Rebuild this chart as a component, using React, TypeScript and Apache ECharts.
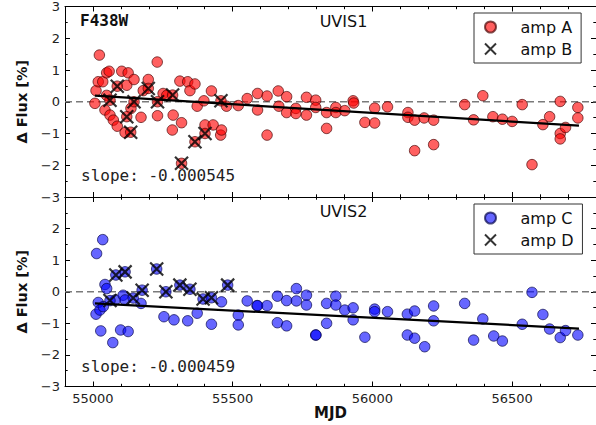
import React, { useEffect, useRef } from "react";
import * as echarts from "echarts";

// ---- axis ranges / ticks ----
const X_MIN = 54900;
const X_MAX = 56800;
const X_MINOR_STEP = 100;
const xTickLabels = [55000, 55500, 56000, 56500];
const Y_MIN = -3;
const Y_MAX = 3;

// ---- top panel (F438W, UVIS1) ----
const ampA: [number, number][] = [
  [55007, -0.05], [55011, 0.35], [55019, 0.63], [55023, 1.47], [55035, 0.63], [55043, -0.26],
  [55049, 0.91], [55049, 0.2], [55058, 0.96], [55061, -0.42], [55073, -0.58], [55087, -0.77],
  [55103, 0.96], [55115, -0.97], [55121, 0.52], [55126, 0.91], [55136, -0.21], [55147, 0.7],
  [55172, -0.49], [55180, 0.35], [55198, 0.7], [55230, 1.25], [55231, -0.44], [55251, 0.26],
  [55264, 0.2], [55284, -0.89], [55287, -0.42], [55311, 0.65], [55317, -0.66], [55339, 0.63],
  [55347, 0.35], [55365, 0.56], [55373, -0.14], [55397, 0.03], [55401, -0.73], [55424, 0.34],
  [55430, -0.73], [55457, -1.05], [55460, -0.89], [55478, -0.14], [55520, -0.12], [55552, 0.1],
  [55589, 0.26], [55589, -0.26], [55623, 0.18], [55623, -1.05], [55663, 0.34], [55665, -0.14],
  [55693, 0.16], [55693, -0.34], [55726, -0.21], [55726, -0.37], [55764, 0.14], [55764, -0.42],
  [55797, 0.05], [55797, -0.18], [55836, -0.34], [55836, -0.84], [55869, -0.18], [55869, -0.34],
  [55901, -0.28], [55931, 0.03], [55933, -0.04], [55973, -0.65], [56008, -0.2], [56008, -0.67],
  [56054, -0.16], [56127, -0.34], [56127, -0.49], [56151, -0.58], [56151, -1.54], [56185, -0.51],
  [56219, -0.58], [56219, -1.35], [56330, -0.09], [56362, -0.57], [56395, 0.19], [56431, -0.47],
  [56465, -0.55], [56500, -0.62], [56536, -0.09], [56571, -1.98], [56610, -0.72], [56634, -0.47],
  [56672, 0.01], [56672, -1.0], [56672, -1.17], [56691, -0.81], [56735, -0.18], [56735, -0.51],
];
const ampB: [number, number][] = [
  [55061, 0.05], [55087, 0.49], [55121, -0.47], [55135, -0.96], [55147, 0.0], [55198, 0.42],
  [55231, 0.0], [55285, 0.21], [55317, -1.94], [55365, -1.26], [55401, -1.0], [55458, 0.03],
];
const topFitStart: [number, number] = [55007, 0.19];
const topFitEndX = 56739;
const topSlope = -0.000545;

// ---- bottom panel (UVIS2) ----
const ampC: [number, number][] = [
  [55011, -0.71], [55013, 1.21], [55019, -0.34], [55025, -0.58], [55028, -1.24], [55035, 1.65],
  [55037, -0.47], [55043, 0.23], [55049, 0.1], [55071, -1.61], [55080, -0.26], [55099, -1.21],
  [55108, -0.11], [55115, -0.26], [55126, -1.26], [55172, -0.37], [55254, -0.79], [55290, -0.89],
  [55339, -0.92], [55373, -0.68], [55424, -1.03], [55460, -0.32], [55520, -0.74], [55520, -1.05],
  [55552, -0.29], [55587, -0.44], [55589, -0.44], [55623, -0.44], [55660, -0.14], [55660, -0.98],
  [55693, -0.28], [55693, -1.08], [55728, 0.1], [55728, -0.29], [55764, -0.11], [55764, -0.42],
  [55797, -1.37], [55798, -1.37], [55836, -0.37], [55836, -1.0], [55869, -0.14], [55869, -0.42],
  [55901, -0.58], [55931, -0.51], [55931, -0.89], [55973, -1.44], [56008, -0.55], [56008, -0.63],
  [56054, -0.63], [56125, -0.71], [56125, -1.37], [56151, -0.61], [56151, -1.47], [56187, -1.74],
  [56219, -0.45], [56219, -0.92], [56330, -0.37], [56362, -1.53], [56395, -0.86], [56434, -1.4],
  [56465, -1.56], [56536, -1.03], [56571, -0.02], [56610, -0.72], [56634, -1.18], [56672, -1.45],
  [56691, -1.23], [56735, -1.37],
];
const ampD: [number, number][] = [
  [55061, -0.28], [55082, 0.53], [55115, 0.63], [55144, -0.2], [55176, 0.05], [55228, 0.72],
  [55261, 0.0], [55311, 0.21], [55347, 0.08], [55394, -0.23], [55424, -0.19], [55482, 0.21],
];
const bottomFitStart: [number, number] = [55007, -0.37];
const bottomFitEndX = 56739;
const bottomSlope = -0.000459;

const filterName = "F438W";
const panelNames = ["UVIS1", "UVIS2"];
const yTitle = "\u0394 Flux [%]";
const xTitle = "MJD";

const CROSS = "path://M0,0L10,10M10,0L0,10";
const SANS = "DejaVu Sans";
const MONO = "DejaVu Sans Mono";

const fitLine = (start: [number, number], endX: number, slope: number): [number, number][] => [
  start,
  [endX, start[1] + slope * (endX - start[0])],
];

const minus = (v: number) => String(v).replace("-", "\u2212");

// minor-tick axis (every 100), optionally carrying the labels
function xMinorAxis(gridIndex: number, position: "bottom" | "top", labels: boolean) {
  return {
    type: "value",
    gridIndex,
    position,
    min: X_MIN,
    max: X_MAX,
    interval: X_MINOR_STEP,
    splitLine: { show: false },
    axisLine: { onZero: false, lineStyle: { color: "#000", width: 1 } },
    axisTick: { inside: true, length: 2.7, lineStyle: { color: "#000" } },
    axisLabel: {
      show: labels,
      margin: 5,
      color: "#222",
      fontFamily: SANS,
      fontSize: 13,
      customValues: xTickLabels,
      formatter: (v: number) => String(v),
    },
    name: labels ? xTitle : "",
    nameLocation: "middle",
    nameGap: 19,
    nameTextStyle: { fontFamily: SANS, fontSize: 15, fontWeight: "bold", color: "#111", verticalAlign: "top" },
  };
}

// major-tick axis (labelled values), ticks only
function xMajorAxis(gridIndex: number, position: "bottom" | "top") {
  return {
    type: "value",
    gridIndex,
    position,
    min: X_MIN,
    max: X_MAX,
    splitLine: { show: false },
    axisLine: { show: false, onZero: false },
    axisTick: { inside: true, length: 5, customValues: xTickLabels, lineStyle: { color: "#000" } },
    axisLabel: { show: false },
  };
}

function yAxisCfg(gridIndex: number, position: "left" | "right", labels: boolean, hideTop: boolean) {
  return {
    type: "value",
    gridIndex,
    position,
    min: Y_MIN,
    max: Y_MAX,
    interval: 1,
    splitLine: { show: false },
    axisLine: { onZero: false, lineStyle: { color: "#000", width: 1 } },
    axisTick: { inside: true, length: 5, lineStyle: { color: "#000" } },
    minorTick: { show: true, splitNumber: 2, length: 2.7, lineStyle: { color: "#000" } },
    axisLabel: {
      show: labels,
      margin: 5,
      color: "#222",
      fontFamily: SANS,
      fontSize: 13,
      formatter: (v: number) => (hideTop && v === Y_MAX ? "" : minus(v)),
    },
    name: labels ? yTitle : "",
    nameLocation: "middle",
    nameRotate: 90,
    nameGap: 29,
    nameTextStyle: { fontFamily: SANS, fontSize: 14.5, fontWeight: "bold", color: "#111" },
  };
}

function legendCfg(names: [string, string], top: number) {
  return {
    data: [
      { name: names[0], icon: "circle" },
      { name: names[1], icon: CROSS },
    ],
    orient: "vertical",
    left: 474,
    top,
    itemWidth: 28,
    itemHeight: 11,
    itemGap: 6,
    padding: [6, 9, 6, 10],
    borderColor: "#333",
    borderWidth: 1,
    borderRadius: 0,
    selectedMode: false,
    textStyle: { fontFamily: SANS, fontSize: 16, lineHeight: 16, color: "#111", padding: [0, 0, 0, 11] },
  };
}

function panelSeries(
  idx: number,
  circName: string,
  crossName: string,
  circles: [number, number][],
  crosses: [number, number][],
  fill: string,
  edge: string,
  fit: [number, number][]
) {
  const xi = idx * 4;
  const yi = idx * 2;
  const circleStyle = { color: fill, borderColor: edge, borderWidth: 1 };
  return [
    {
      type: "line",
      xAxisIndex: xi,
      yAxisIndex: yi,
      data: [[X_MIN, 0], [X_MAX, 0]],
      symbol: "none",
      silent: true,
      z: 1,
      lineStyle: { color: "#7a7a7a", width: 1.5, type: [7, 4] },
    },
    {
      name: circName,
      type: "scatter",
      xAxisIndex: xi,
      yAxisIndex: yi,
      data: circles,
      symbol: "circle",
      symbolSize: 10.5,
      z: 2,
      itemStyle: circleStyle,
    },
    {
      // the crossed points are drawn as filled circles too
      type: "scatter",
      xAxisIndex: xi,
      yAxisIndex: yi,
      data: crosses,
      symbol: "circle",
      symbolSize: 10.5,
      z: 2,
      itemStyle: circleStyle,
    },
    {
      type: "line",
      xAxisIndex: xi,
      yAxisIndex: yi,
      data: fit,
      symbol: "none",
      silent: true,
      z: 3,
      lineStyle: { color: "#000", width: 2.2 },
    },
    {
      name: crossName,
      type: "scatter",
      xAxisIndex: xi,
      yAxisIndex: yi,
      data: crosses,
      symbol: CROSS,
      symbolSize: 13,
      z: 4,
      itemStyle: { color: "rgba(0,0,0,0)", borderColor: "#000", borderWidth: 2.2 },
    },
  ];
}

export default function App() {
  const ref = useRef<HTMLDivElement>(null);

  useEffect(() => {
    if (!ref.current) return;
    const chart = echarts.init(ref.current, null, { renderer: "svg" });
    const option = {
      animation: false,
      backgroundColor: "#fff",
      grid: [
        { left: 65, top: 6.5, width: 531.5, height: 190.5 },
        { left: 65, top: 197, width: 531.5, height: 189.5 },
      ],
      xAxis: [
        xMinorAxis(0, "bottom", false),
        xMinorAxis(0, "top", false),
        xMajorAxis(0, "bottom"),
        xMajorAxis(0, "top"),
        xMinorAxis(1, "bottom", true),
        xMinorAxis(1, "top", false),
        xMajorAxis(1, "bottom"),
        xMajorAxis(1, "top"),
      ],
      yAxis: [
        yAxisCfg(0, "left", true, false),
        yAxisCfg(0, "right", false, false),
        yAxisCfg(1, "left", true, true),
        yAxisCfg(1, "right", false, false),
      ],
      legend: [legendCfg(["amp A", "amp B"], 13), legendCfg(["amp C", "amp D"], 204)],
      series: [
        ...panelSeries(0, "amp A", "amp B", ampA, ampB, "rgba(255,0,0,0.78)", "rgba(70,0,0,0.85)",
          fitLine(topFitStart, topFitEndX, topSlope)),
        ...panelSeries(1, "amp C", "amp D", ampC, ampD, "rgba(0,0,255,0.75)", "rgba(0,0,70,0.85)",
          fitLine(bottomFitStart, bottomFitEndX, bottomSlope)),
      ],
      graphic: [
        {
          type: "text", x: 80, y: 20.5, z: 10,
          style: { text: filterName, font: `bold 16px "${MONO}"`, fill: "#111", textAlign: "left", textVerticalAlign: "middle" },
        },
        {
          type: "text", x: 343.5, y: 21, z: 10,
          style: { text: panelNames[0], font: `16px "${SANS}"`, fill: "#111", textAlign: "center", textVerticalAlign: "middle" },
        },
        {
          type: "text", x: 343.5, y: 211, z: 10,
          style: { text: panelNames[1], font: `16px "${SANS}"`, fill: "#111", textAlign: "center", textVerticalAlign: "middle" },
        },
        {
          type: "text", x: 81, y: 175, z: 10,
          style: { text: "slope: " + topSlope.toFixed(6), font: `16px "${MONO}"`, fill: "#222", textAlign: "left", textVerticalAlign: "middle" },
        },
        {
          type: "text", x: 81, y: 366, z: 10,
          style: { text: "slope: " + bottomSlope.toFixed(6), font: `16px "${MONO}"`, fill: "#222", textAlign: "left", textVerticalAlign: "middle" },
        },
      ],
    };
    chart.setOption(option as any);
    return () => chart.dispose();
  }, []);

  return (
    <div
      ref={ref}
      style={{ position: "absolute", left: 0, top: 0, width: 596, height: 425, background: "#fff" }}
    />
  );
}
